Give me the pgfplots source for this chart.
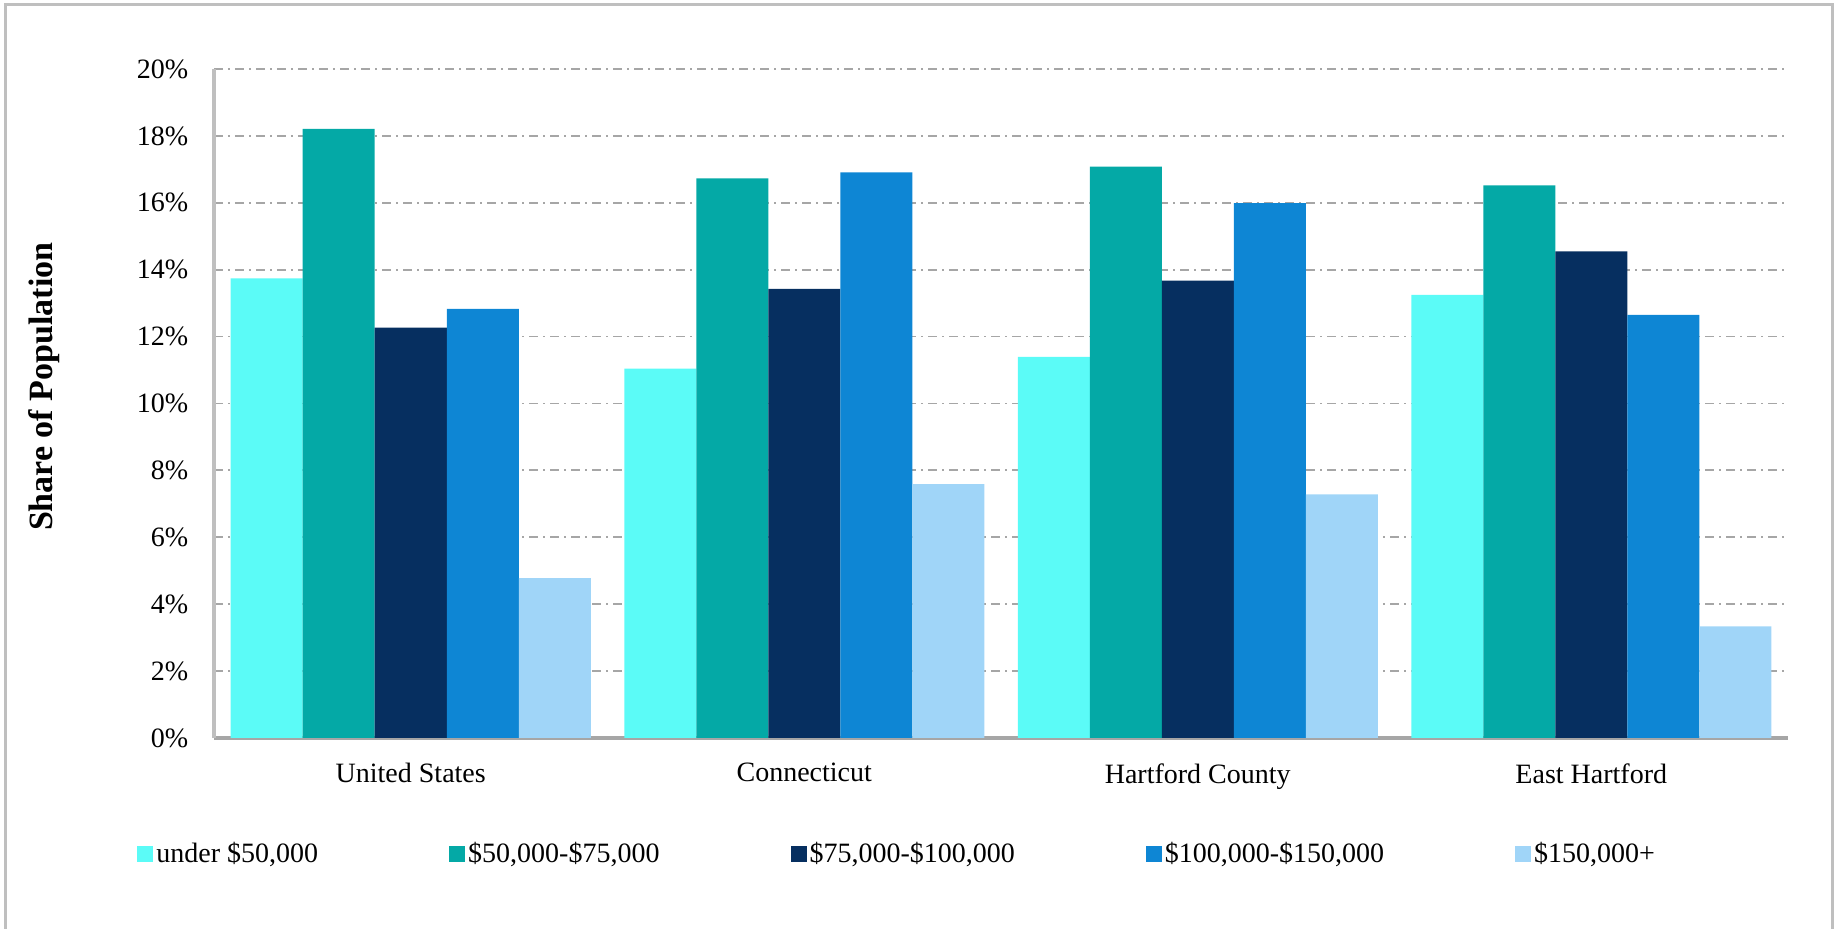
\documentclass[border=0pt]{standalone}
\usepackage{fontspec}
\setmainfont{Liberation Serif}
\usepackage{pgfplots}
\pgfplotsset{compat=1.18}
\definecolor{cA}{HTML}{5BFBF7}
\definecolor{cB}{HTML}{04A9A6}
\definecolor{cC}{HTML}{062F60}
\definecolor{cD}{HTML}{0E86D4}
\definecolor{cE}{HTML}{A0D5F8}
\definecolor{frame}{HTML}{BFBFBF}
\definecolor{axl}{HTML}{A6A6A6}
\definecolor{grd}{HTML}{A6A6A6}
\begin{document}
\fontsize{14pt}{16pt}\selectfont
\begin{tikzpicture}
\useasboundingbox (-107pt,-95.5pt) rectangle (813.5pt,369pt);
\draw[line width=1.5pt, color=frame] (-104pt,-96pt) -- (-104pt,366.5pt) -- (809pt,366.5pt) -- (809pt,-96pt);
\begin{axis}[
  at={(0pt,0pt)}, anchor=south west,
  scale only axis, width=787pt, height=334.5pt,
  ybar=0pt, bar width=36pt,
  xmin=-0.5, xmax=3.5, ymin=0, ymax=20,
  xtick={0,1,2,3},
  xticklabels={United States,Connecticut,Hartford County,East Hartford},
  ytick={0,2,4,6,8,10,12,14,16,18,20},
  yticklabels={0\%,2\%,4\%,6\%,8\%,10\%,12\%,14\%,16\%,18\%,20\%},
  major tick length=0pt,
  axis x line*=bottom, axis y line*=left,
  x axis line style={draw=axl, line width=2pt, -},
  y axis line style={draw=frame, line width=2pt, -},
  ymajorgrids,
  grid style={draw=grd, line width=0.9pt, dash pattern=on 4.5pt off 2.5pt on 1pt off 2.5pt},
  tick label style={font=\fontsize{14pt}{16pt}\selectfont},
  xticklabel style={yshift=-7.8pt},
  yticklabel style={xshift=-8pt},
  ylabel={Share of Population},
  ylabel style={at={(axis description cs:-0.108,0.525)}, anchor=center, font=\fontsize{17pt}{19pt}\selectfont\bfseries},
  legend columns=5,
  legend style={draw=none, fill=none, at={(axis description cs:-0.0527,-0.1734)}, anchor=west,
    font=\fontsize{14pt}{16pt}\selectfont, nodes={inner sep=1.5pt},
    /tikz/every even column/.append style={column sep=64pt}},
  legend image code/.code={\fill[#1] (0pt,-4pt) rectangle (8pt,4pt);},
]
\addplot[fill=cA, draw=none] coordinates {(0,13.74) (1,11.04) (2,11.39) (3,13.25)};
\addplot[fill=cB, draw=none] coordinates {(0,18.21) (1,16.73) (2,17.08) (3,16.52)};
\addplot[fill=cC, draw=none] coordinates {(0,12.27) (1,13.43) (2,13.67) (3,14.55)};
\addplot[fill=cD, draw=none] coordinates {(0,12.83) (1,16.91) (2,15.99) (3,12.65)};
\addplot[fill=cE, draw=none] coordinates {(0,4.78) (1,7.59) (2,7.28) (3,3.34)};
\legend{{under \$50,000},{\$50,000-\$75,000},{\$75,000-\$100,000},{\$100,000-\$150,000},{\$150,000+}}
\end{axis}
\end{tikzpicture}
\end{document}
